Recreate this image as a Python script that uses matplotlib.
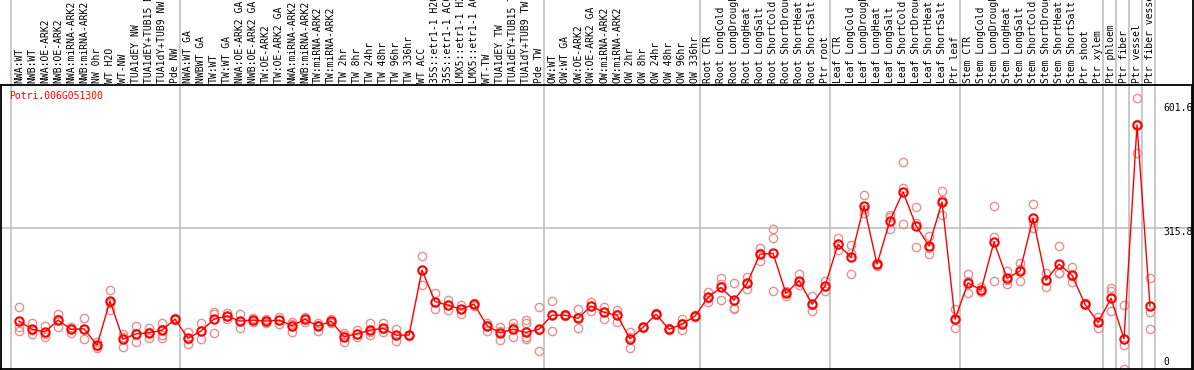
import matplotlib
matplotlib.use('Agg')
import matplotlib.pyplot as plt
import matplotlib.transforms as mtransforms
import numpy as np

gene = 'Potri.006G051300'

samples = [
    'NWA:WT', 'NWB:WT', 'NWA:OE-ARK2', 'NWB:OE-ARK2', 'NWA:miRNA-ARK2', 'NWB:miRNA-ARK2',
    'NW 0hr', 'WT H2O', 'WT-NW', 'TUA1dEY NW', 'TUA1dEY+TUB15 NW', 'TUA1dY+TUB9 NW', 'Pde NW',
    'NWA:WT GA', 'NWBWT GA', 'TW:WT', 'TW:WT GA', 'NWA:OE-ARK2 GA', 'NWB:OE-ARK2 GA',
    'TW:OE-ARK2', 'TW:OE-ARK2 GA', 'NWA:miRNA-ARK2', 'NWB:miRNA-ARK2', 'TW:miRNA-ARK2',
    'TW:miRNA-ARK2', 'TW 2hr', 'TW 8hr', 'TW 24hr', 'TW 48hr', 'TW 96hr', 'TW 336hr', 'WT ACC',
    '35S::etr1-1 H2O', '35S::etr1-1 ACC', 'LMX5::etr1-1 H2O', 'LMX5::etr1-1 ACC', 'WT-TW',
    'TUA1dEY TW', 'TUA1dEY+TUB15 TW', 'TUA1dY+TUB9 TW', 'Pde TW',
    'OW:WT', 'OW:WT GA', 'OW:OE-ARK2', 'OW:OE-ARK2 GA', 'OW:miRNA-ARK2', 'OW:miRNA-ARK2',
    'OW 2hr', 'OW 8hr', 'OW 24hr', 'OW 48hr', 'OW 96hr', 'OW 336hr',
    'Root CTR', 'Root LongCold', 'Root LongDrought', 'Root LongHeat', 'Root LongSalt',
    'Root ShortCold', 'Root ShortDrought', 'Root ShortHeat', 'Root ShortSalt', 'Ptr root',
    'Leaf CTR', 'Leaf LongCold', 'Leaf LongDrought', 'Leaf LongHeat', 'Leaf LongSalt',
    'Leaf ShortCold', 'Leaf ShortDrought', 'Leaf ShortHeat', 'Leaf ShortSalt', 'Ptr leaf',
    'Stem CTR', 'Stem LongCold', 'Stem LongDrought', 'Stem LongHeat', 'Stem LongSalt',
    'Stem ShortCold', 'Stem ShortDrought', 'Stem ShortHeat', 'Stem ShortSalt', 'Ptr shoot',
    'Ptr xylem', 'Ptr phloem', 'Ptr fiber', 'Ptr vessel', 'Ptr fiber vessel',
]
group_sizes = [13, 28, 12, 10, 10, 11, 1, 1, 1, 1]

means = [
    112, 94, 88, 114, 94, 95, 59, 156, 72, 84, 86, 92, 116,
    74, 90, 116, 123, 112, 114, 112, 114, 102, 116, 101, 112, 78, 84, 92, 96, 81, 81,
    224, 155, 147, 138, 149, 102, 86, 94, 87, 94,
    125, 125, 118, 145, 131, 125, 73, 98, 127, 94, 105, 123,
    164, 186, 158, 195, 259, 261, 173, 201, 149, 189,
    281, 252, 365, 237, 333, 396, 322, 277, 374, 116,
    196, 180, 286, 206, 222, 338, 202, 237, 213, 149, 109,
    162, 73, 543, 145,
]

reps = [
    [143, 100, 90], [107, 84, 92], [101, 78, 84], [127, 100, 116], [100, 86, 95],
    [118, 73, 95], [67, 52, 58], [180, 136, 152], [83, 54, 78], [101, 66, 85],
    [96, 75, 87], [108, 95, 81, 74], [118, 114, 116],
    [89, 62, 72], [107, 73, 90], [133, 86, 128], [130, 116, 123], [127, 96, 113],
    [118, 110, 114], [116, 108, 112], [122, 105, 115], [111, 89, 105], [122, 111, 116],
    [107, 91, 104], [116, 108, 112], [67, 82, 85], [92, 78, 84], [107, 81, 88],
    [108, 87, 94], [94, 68, 81], [81, 80, 82], [255, 191, 224], [173, 138, 155],
    [158, 136, 147], [147, 127, 138], [151, 146, 149], [107, 90, 104], [98, 70, 90],
    [107, 76, 98], [114, 108, 76, 72], [144, 46, 92],
    [157, 90, 128], [127, 123, 125], [138, 96, 120], [155, 135, 145], [144, 116, 133],
    [136, 111, 128], [89, 52, 78], [98, 96, 100], [127, 125, 129], [94, 92, 96],
    [116, 92, 107], [123, 121, 125],
    [175, 155, 162], [207, 158, 193], [195, 138, 141], [209, 182, 195], [272, 244, 261],
    [314, 294, 178], [166, 176, 178], [215, 191, 198], [166, 134, 147], [201, 177, 189],
    [294, 268, 281], [279, 215, 262], [389, 349, 358], [240, 234, 237], [345, 314, 340],
    [462, 404, 325], [363, 275, 328], [299, 259, 273], [398, 345, 378], [138, 96, 114],
    [215, 173, 200], [178, 176, 186], [365, 297, 200], [222, 193, 203], [240, 200, 226],
    [369, 316, 329], [218, 186, 202], [277, 217, 217], [230, 198, 211], [149, 147, 151],
    [120, 96, 111],
    [184, 178, 135], [147, 59, 6], [601.6, 546, 481], [206, 133, 95],
]

y_ticks = [0, 315.8, 601.6]

grey = '#c0c0c0'
rep_color = '#e89090'
mono = 'DejaVu Sans Mono'

fig = plt.figure(figsize=(11.94, 3.70), dpi=100)
ax = fig.add_axes([1 / 1194, 1 / 370, 1191 / 1194, 284 / 370])

x = np.arange(len(samples))

# replicates
for i, r in enumerate(reps):
    ax.plot([i] * len(r), r, 'o', ms=6, mfc='none', mec=rep_color, mew=1.0, zorder=2)

# mean line
ax.plot(x, means, '-', color='red', lw=1.0, zorder=3)
ax.plot(x, means, 'o', ms=6, mfc='none', mec='red', mew=1.5, zorder=4)

ax.set_xlim(-1.385, 90.23)
ax.set_ylim(6.6, 631)
ax.set_xticks([])
ax.set_yticks([])

ax.axhline(315.8, color=grey, lw=1.2, zorder=0)

# group separators, running up through the label area
starts = np.concatenate([[0], np.cumsum(group_sizes)])
for s in starts:
    ax.axvline(s - 0.6, ymin=0, ymax=1.31, color=grey, lw=1.2, clip_on=False, zorder=0)

for sp in ax.spines.values():
    sp.set_color('black')
    sp.set_linewidth(1.3)

# right border goes all the way up
fig.add_artist(plt.Line2D([1192.5 / 1194, 1192.5 / 1194], [0, 1], color='black', lw=1.3))

# sample labels
trans = mtransforms.blended_transform_factory(ax.transData, ax.transAxes)
for i, name in enumerate(samples):
    ax.text(i, 1.008, name, rotation=90, ha='center', va='bottom', transform=trans,
            fontsize=7, family=mono, clip_on=False)

# gene name
ax.text(8 / 1191, 0.962, gene, color='red', fontsize=7, family=mono,
        ha='left', va='center', transform=ax.transAxes)

# value labels on the right
offsets = {0: 10, 315.8: -3.5, 601.6: -9.5}
for v in y_ticks:
    ax.annotate(('%g' % v) if v == 0 else '%.1f' % v, xy=(88.0, v), xytext=(0, offsets[v]),
                textcoords='offset pixels', ha='left', va='center',
                fontsize=7, family=mono, annotation_clip=False)

fig.savefig('out.png', dpi=100)
